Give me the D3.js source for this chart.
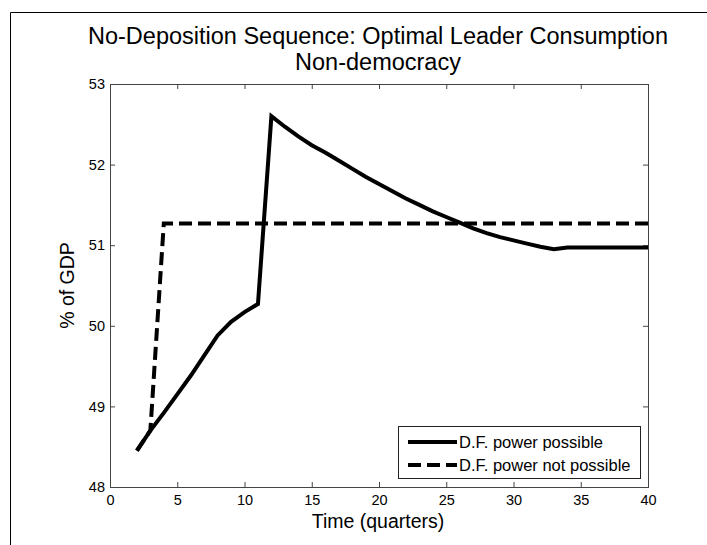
<!DOCTYPE html>
<html>
<head>
<meta charset="utf-8">
<script src="https://cdn.jsdelivr.net/npm/d3@7"></script>
<style>
  body { margin: 0; background: #fff; }
  text { font-family: Arial, "Liberation Sans", sans-serif; }
</style>
</head>
<body>
<div id="chart"></div>
<script>
// quarters and the two consumption paths (% of GDP)
var quarters = d3.range(2, 41);
var possible = [48.45, 48.7, 48.92, 49.15, 49.38, 49.63, 49.88, 50.05, 50.17, 50.27,
  52.6, 52.47, 52.35, 52.24, 52.15, 52.05, 51.95, 51.85, 51.76, 51.67,
  51.58, 51.5, 51.42, 51.35, 51.28, 51.21, 51.15, 51.1, 51.06, 51.02,
  50.98, 50.95, 50.97, 50.97, 50.97, 50.97, 50.97, 50.97, 50.97];
var notPossible = [48.45, 48.7, 51.27, 51.27, 51.27, 51.27, 51.27, 51.27, 51.27, 51.27,
  51.27, 51.27, 51.27, 51.27, 51.27, 51.27, 51.27, 51.27, 51.27, 51.27,
  51.27, 51.27, 51.27, 51.27, 51.27, 51.27, 51.27, 51.27, 51.27, 51.27,
  51.27, 51.27, 51.27, 51.27, 51.27, 51.27, 51.27, 51.27, 51.27];
var xTicks = [0, 5, 10, 15, 20, 25, 30, 35, 40];
var yTicks = [48, 49, 50, 51, 52, 53];
var seriesNames = ["D.F. power possible", "D.F. power not possible"];

var width = 707, height = 545;
// plot box edges (note: "top" is taken by window.top, so prefix them)
var pLeft = 110, pRight = 648, pTop = 84, pBottom = 487;

var svg = d3.select("#chart").append("svg")
  .attr("width", width)
  .attr("height", height);

// page frame (top and left edge)
svg.append("line").attr("x1", 10.5).attr("x2", width).attr("y1", 12.5).attr("y2", 12.5)
  .attr("stroke", "#000").attr("stroke-width", 1);
svg.append("line").attr("x1", 10.5).attr("x2", 10.5).attr("y1", 12.5).attr("y2", height)
  .attr("stroke", "#000").attr("stroke-width", 1);

var x = d3.scaleLinear().domain([0, 40]).range([pLeft, pRight]);
var y = d3.scaleLinear().domain([48, 53]).range([pBottom, pTop]);

// axes with inward ticks
var axisColor = "#444";
function styleAxis(g) {
  g.select(".domain").remove();
  g.selectAll(".tick line").attr("stroke", axisColor);
  g.selectAll(".tick text").attr("fill", "#000").style("font-size", "14.5px")
    .style("font-family", "Arial, 'Liberation Sans', sans-serif");
}

svg.append("g").attr("transform", "translate(0," + pBottom + ")")
  .call(d3.axisBottom(x).tickValues(xTicks).tickFormat(d3.format("d")).tickSize(-5).tickPadding(8))
  .call(styleAxis);
svg.append("g").attr("transform", "translate(0," + pTop + ")")
  .call(d3.axisTop(x).tickValues(xTicks).tickSize(-5).tickFormat(""))
  .call(styleAxis);
svg.append("g").attr("transform", "translate(" + pLeft + ",0)")
  .call(d3.axisLeft(y).tickValues(yTicks).tickFormat(d3.format("d")).tickSize(-5).tickPadding(5))
  .call(styleAxis);
svg.append("g").attr("transform", "translate(" + pRight + ",0)")
  .call(d3.axisRight(y).tickValues(yTicks).tickSize(-5).tickFormat(""))
  .call(styleAxis);

svg.append("rect")
  .attr("x", pLeft + 0.5).attr("y", pTop + 0.5)
  .attr("width", pRight - pLeft).attr("height", pBottom - pTop)
  .attr("fill", "none").attr("stroke", axisColor).attr("stroke-width", 1);

// lines
var line = d3.line()
  .x(function (d) { return x(d[0]); })
  .y(function (d) { return y(d[1]); });

var dashes = "13,6";

svg.append("path")
  .datum(quarters.map(function (q, i) { return [q, possible[i]]; }))
  .attr("d", line)
  .attr("fill", "none").attr("stroke", "#000").attr("stroke-width", 4);

svg.append("path")
  .datum(quarters.map(function (q, i) { return [q, notPossible[i]]; }))
  .attr("d", line)
  .attr("fill", "none").attr("stroke", "#000").attr("stroke-width", 4)
  .attr("stroke-dasharray", dashes);

// legend
var legend = svg.append("g");
legend.append("rect")
  .attr("x", 398.5).attr("y", 426.5).attr("width", 242).attr("height", 52)
  .attr("fill", "#fff").attr("stroke", "#222").attr("stroke-width", 1);

seriesNames.forEach(function (name, i) {
  var ly = 442 + i * 23;
  legend.append("line")
    .attr("x1", 408).attr("x2", 457).attr("y1", ly).attr("y2", ly)
    .attr("stroke", "#000").attr("stroke-width", 4)
    .attr("stroke-dasharray", i === 1 ? dashes : null);
  legend.append("text")
    .attr("x", 459).attr("y", ly + 6)
    .style("font-size", "16.5px")
    .text(name);
});

// titles
svg.append("text").attr("x", 378).attr("y", 44).attr("text-anchor", "middle")
  .style("font-size", "23.5px").text("No-Deposition Sequence: Optimal Leader Consumption");
svg.append("text").attr("x", 378).attr("y", 70).attr("text-anchor", "middle")
  .style("font-size", "23.5px").text("Non-democracy");

svg.append("text").attr("x", 378).attr("y", 528).attr("text-anchor", "middle")
  .style("font-size", "19.5px").text("Time (quarters)");
svg.append("text")
  .attr("transform", "translate(74," + ((pTop + pBottom) / 2) + ") rotate(-90)")
  .attr("text-anchor", "middle")
  .style("font-size", "19.5px").text("% of GDP");
</script>
</body>
</html>
